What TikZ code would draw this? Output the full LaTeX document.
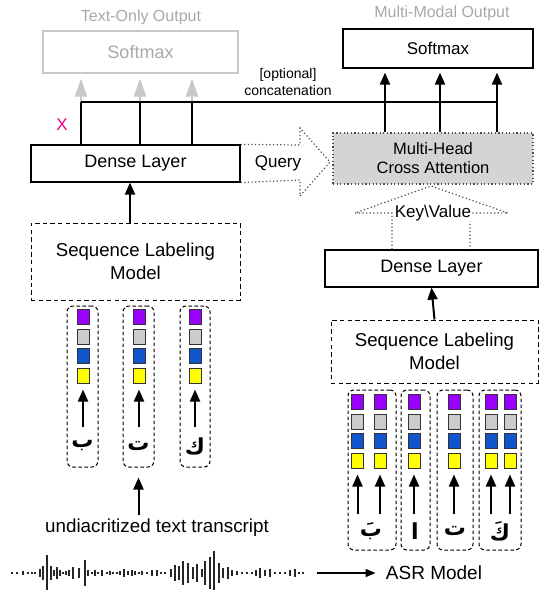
\documentclass[tikz,border=0pt]{standalone}
\usepackage{fontspec}
\setmainfont{Liberation Sans}
\newfontfamily\arabicfont[Script=Arabic]{DejaVu Sans}
\TeXXeTstate=1
\usetikzlibrary{arrows.meta,calc}
\definecolor{cpurple}{HTML}{9900FF}
\definecolor{cgray}{HTML}{CCCCCC}
\definecolor{cblue}{HTML}{1155CC}
\definecolor{cyellow}{HTML}{FFFF00}
\definecolor{lightline}{HTML}{C8C8C8}
\definecolor{lighttext}{HTML}{A8A8A8}
\definecolor{attfill}{HTML}{D4D4D4}
\tikzset{
  blk/.style={draw, line width=0.6pt, inner sep=0pt, align=center},
  dbox/.style={draw, line width=0.5pt, dash pattern=on 2.2pt off 1.6pt, inner sep=0pt, align=center},
  colbox/.style={draw, line width=0.5pt, dash pattern=on 1.8pt off 1.2pt, rounded corners=3pt, inner sep=0pt, minimum height=80.5pt},
  sq/.style={draw=black!80, line width=0.5pt, inner sep=0pt, minimum width=6pt, minimum height=7.5pt},
  up/.style={-{Triangle[length=6pt,width=5pt]}, line width=1pt},
  grayup/.style={-{Triangle[length=9pt,width=6pt]}, line width=1pt, draw=lightline},
  dotline/.style={draw=black!70, line width=0.6pt, dash pattern=on 0.6pt off 1.2pt},
  txt/.style={inner sep=0pt, align=center},
  ar/.style={inner sep=0pt, font=\arabicfont\bfseries\fontsize{11}{12}\selectfont},
  big/.style={font=\fontsize{9}{11.5}\selectfont},
}
\begin{document}
\begin{tikzpicture}[x=0.5pt,y=-0.5pt]
\useasboundingbox (0,0) rectangle (541,590);

% ---- output boxes
\node[txt, text=lighttext, font=\fontsize{8}{9}\selectfont] (tolab) at (141,17) {Text-Only Output};
\node[blk, draw=lightline, text=lighttext, minimum width=97.5pt, minimum height=21pt, font=\fontsize{9}{10}\selectfont] (tosm) at (140.5,52) {Softmax};
\node[txt, text=lighttext, font=\fontsize{8}{9}\selectfont] (mmlab) at (442,13) {Multi-Modal Output};
\node[blk, minimum width=95pt, minimum height=19.5pt, font=\fontsize{8.5}{10}\selectfont] (mmsm) at (438,48.5) {Softmax};

% ---- left branch
\node[blk, big, minimum width=104.5pt, minimum height=18.5pt] (dl1) at (135.5,163.5) {Dense Layer};
\node[dbox, minimum width=104.5pt, minimum height=38.5pt, font=\fontsize{9.3}{11.5}\selectfont] (slm1) at (135.5,261.5) {Sequence Labeling\\Model};

% ---- right branch
\node[blk, dotline, fill=attfill, minimum width=100pt, minimum height=25.5pt, font=\fontsize{8.25}{9.5}\selectfont] (mhca) at (433,158.5) {Multi-Head\\Cross Attention};
\node[blk, big, minimum width=106.5pt, minimum height=18.5pt] (dl2) at (431.5,268.5) {Dense Layer};
\node[dbox, minimum width=103.5pt, minimum height=31.5pt, font=\fontsize{9.3}{11.5}\selectfont] (slm2) at (434.5,351.5) {Sequence Labeling\\Model};

% ---- concatenation lines
\coordinate (j1) at (81,102);
\coordinate (j2) at (140,102);
\coordinate (j3) at (192,102);
\coordinate (k1) at (385,102);
\coordinate (k2) at (440,102);
\coordinate (k3) at (497,102);
\foreach \j in {j1,j2,j3}{
  \draw[line width=1pt] (dl1.north -| \j) -- (\j);
  \draw[grayup, shorten >=2.5pt] (\j) -- (\j |- tosm.south);
}
\draw[line width=1pt] (j1) -- (k3);
\foreach \k in {k1,k2,k3}{
  \draw[up, shorten >=2pt] (mhca.north -| \k) -- (\k |- mmsm.south);
}
\node[txt, font=\fontsize{7}{8.5}\selectfont] (opt) at (288,82) {[optional]\\concatenation};
\node[txt, text=magenta, font=\fontsize{8.5}{10}\selectfont] (xm) at (62,125) {X};

% ---- query arrow
\draw[dotline] (dl1.north east) -- (300,145) -- (300,128) -- (330,162) -- (300,196) -- (300,180) -- (dl1.south east);
\node[txt, font=\fontsize{8.5}{10}\selectfont] (q) at (278,163) {Query};

% ---- key/value arrow
\draw[dotline] ($(dl2.north)+(-39.5,0)$) -- (392,213) -- (355,213) -- (431,186) -- (508,213) -- (470,213) -- ($(dl2.north)+(38.5,0)$);
\node[txt, fill=white, inner xsep=0.5pt, font=\fontsize{8.5}{10}\selectfont] (kv) at (433,213) {Key\textbackslash Value};

% ---- vertical flow arrows
\draw[up] ([xshift=-2.75pt]slm1.north) -- ([xshift=-2.75pt]dl1.south);
\draw[up] (slm2.north) -- (dl2.south);

% ---- left token columns
\node[colbox, minimum width=15.5pt] (L1) at (82.5,386.5) {};
\node[colbox, minimum width=15.5pt] (L2) at (138.5,386.5) {};
\node[colbox, minimum width=15pt] (L3) at (195,386.5) {};
\node[ar] (la1) at (82.5,446) {\beginR ب\endR};
\node[ar] (la2) at (138.5,446) {\beginR ت\endR};
\node[ar] (la3) at (195,446) {\beginR ك\endR};

\foreach \x [count=\i] in {83,139,195}{
  \node[sq, fill=cpurple] (lp\i) at (\x,316.5) {};
  \node[sq, fill=cgray]   (lg\i) at (\x,336.5) {};
  \node[sq, fill=cblue]   (lb\i) at (\x,356) {};
  \node[sq, fill=cyellow] (ly\i) at (\x,375.5) {};
  \coordinate (ls\i) at (\x,427);
  \draw[up, shorten >=3pt] (ls\i) -- (ly\i.south);
}

% ---- right token columns
\node[colbox, minimum width=24pt, minimum height=80pt] (R1) at (372,470) {};
\node[colbox, minimum width=14.5pt, minimum height=80pt] (R2) at (415.5,470) {};
\node[colbox, minimum width=18pt, minimum height=80pt] (R3) at (455,470) {};
\node[colbox, minimum width=21pt, minimum height=80pt] (R4) at (500,470) {};
\node[ar] (ra1) at (371,531) {\beginR بَ\endR};
\node[ar] (ra2) at (415,531) {\beginR ا\endR};
\node[ar] (ra3) at (455,531) {\beginR ت\endR};
\node[ar] (ra4) at (500,531) {\beginR كَ\endR};

\foreach \x [count=\i] in {357.5,380,414,454,491,510}{
  \node[sq, fill=cpurple] (rp\i) at (\x,401.5) {};
  \node[sq, fill=cgray]   (rg\i) at (\x,421.5) {};
  \node[sq, fill=cblue]   (rb\i) at (\x,440.5) {};
  \node[sq, fill=cyellow] (ry\i) at (\x,460.5) {};
  \coordinate (rs\i) at (\x,514);
  \draw[up, shorten >=3pt] (rs\i) -- (ry\i.south);
}

% ---- transcript
\node[txt, font=\fontsize{9.4}{11}\selectfont] (tr) at (157,528) {undiacritized text transcript};
\draw[up, shorten <=2pt, shorten >=5pt] (tr.north -| L2.south) -- (L2.south);

% ---- waveform
\foreach \x/\h in {12/1,17/1,23/2,28/1,32/1,35/1,40/4,43/7,47/18,51/7,54/3,57/6,60/3,63/1,66/2,69/3,73/6,79/5,85/13,88/3,92/1,95/3,98/1,102/3,107/1,110/2,113/1,117/1,120/2,124/4,128/2,132/3,135/2,139/1,142/2,147/1,152/3,157/3,161/1,165/1,171/4,175/8,179/7,183/12,188/10,193/6,197/9,202/4,205/12,210/16,214/22,219/10,223/5,228/6,232/3,237/2,242/1,247/1,252/1,256/3,260/5,265/3,270/4,275/1,280/1,285/1,290/3,295/4,299/1,303/1}{
  \draw[line width=0.6pt, black!85] (\x,{573-\h}) -- (\x,{573+\h});
}
\coordinate (wend) at (317,573);
\node[txt, font=\fontsize{9.5}{11}\selectfont] (asr) at (434,573) {ASR Model};
\draw[-{Triangle[length=5pt,width=4pt]}, line width=0.8pt, shorten >=5pt] (wend) -- (asr.west);
\end{tikzpicture}
\end{document}
